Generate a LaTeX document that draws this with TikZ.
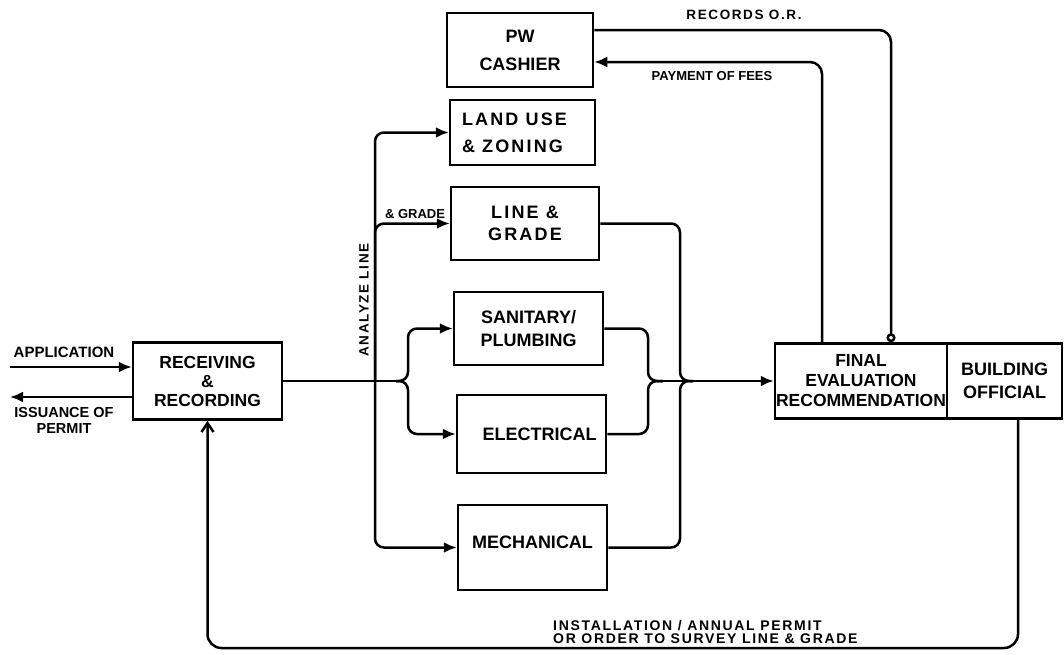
\documentclass[tikz,border=0pt]{standalone}
\usepackage{fontspec}
\setmainfont{Liberation Sans}
\newfontfamily\widefont[LetterSpace=12]{Liberation Sans}
\usetikzlibrary{arrows.meta, positioning}

\begin{document}
\begin{tikzpicture}[x=1pt, y=-1pt,
    box/.style={draw, line width=2.5pt, inner sep=0pt, align=center,
        font=\fontsize{18}{21}\selectfont\bfseries},
    flow/.style={line width=2.5pt, rounded corners=9pt},
    arr/.style={flow, -{Latex[length=13pt,width=11pt]}},
    lbl/.style={inner sep=0pt, align=center, font=\fontsize{15}{16}\selectfont\bfseries}]
    \useasboundingbox (0,0) rectangle (1064,654);

    \node[box, minimum width=149pt, minimum height=77pt, font=\fontsize{17.5}{19}\selectfont\bfseries] (rr) at (207.5,381) {RECEIVING\\\&\\RECORDING};
    \node[box, minimum width=146pt, minimum height=74pt, font=\fontsize{18}{28}\selectfont\bfseries] (cash) at (520,50) {PW\\CASHIER};
    \node[box, minimum width=145pt, minimum height=65pt, align=left, font=\fontsize{18}{27}\selectfont\bfseries\widefont] (land) at (522.5,132.5) {\hspace*{-16pt}LAND USE\\\hspace*{-16pt}\& ZONING};
    \node[box, minimum width=148pt, minimum height=73pt, font=\fontsize{18}{22}\selectfont\bfseries\widefont] (line) at (525,223.5) {LINE \&\\GRADE};
    \node[box, minimum width=149pt, minimum height=73pt, font=\fontsize{18}{23}\selectfont\bfseries] (san) at (528.5,328.5) {SANITARY/\\PLUMBING};
    \node[box, minimum width=149pt, minimum height=78pt] (elec) at (531.5,434) {\hspace*{16pt}ELECTRICAL};
    \node[box, minimum width=149pt, minimum height=85pt] (mech) at (532.5,547.5) {MECHANICAL\\[-10pt]\mbox{}};
    \node[box, minimum width=172pt, minimum height=75pt, font=\fontsize{17.5}{20}\selectfont\bfseries] (final) at (861,381) {FINAL\\EVALUATION\\RECOMMENDATION};
    \node[box, minimum width=115pt, minimum height=75pt, font=\fontsize{18}{23}\selectfont\bfseries] (bo) at (1004.5,381) {BUILDING\\OFFICIAL};

    \coordinate (appl) at (10,367);
    \coordinate (iss) at (10,397);
    \coordinate (J) at (375,381);
    \coordinate (split) at (396,381);
    \coordinate (m1) at (663,381);
    \coordinate (payx) at (822,0);
    \coordinate (recx) at (891,0);
    \coordinate (retx) at (1018,0);
    \coordinate (bot) at (0,648);

    \draw[arr] (appl) -- (rr.west |- appl);
    \draw[arr] (rr.west |- iss) -- (iss);
    \node[lbl] (applbl) at (64,352) {APPLICATION};
    \node[lbl, font=\fontsize{14.5}{16}\selectfont\bfseries] (isslbl) at (64,420) {ISSUANCE OF\\PERMIT};

    \draw[flow] (rr.east) -- (split);
    \draw[arr] (J) |- (land.west);
    \draw[arr] (J) |- (line.west);
    \draw[arr] (J) |- (mech.west);
    \draw[arr] (split) -- ++(12,0) |- (san.west);
    \draw[arr] (split) -- ++(12,0) |- (elec.west);
    \node[lbl, rotate=90, font=\fontsize{13.5}{15}\selectfont\bfseries\widefont] (advlbl) at (364,300) {ANALYZE LINE};
    \node[lbl, font=\fontsize{13}{13}\selectfont\bfseries] (gradelbl) at (415,214) {\& GRADE};

    \draw[flow] (san.east) -| (648,381) -- (m1);
    \draw[flow] (elec.east) -| (648,381) -- (m1);
    \draw[flow] (line.east) -| (680,381) -- (693,381);
    \draw[flow] (mech.east) -| (680,381) -- (693,381);
    \draw[arr] (m1) -- (final.west);

    \draw[arr, rounded corners=12pt] (final.north -| payx) |- ([yshift=-12pt]cash.east);
    \draw[flow, rounded corners=12pt, -{Circle[open,length=9pt,width=9pt]}] ([yshift=20pt]cash.east) -| (final.north -| recx);
    \node[lbl, font=\fontsize{13.5}{15}\selectfont\bfseries\widefont] (reclbl) at (744,15) {RECORDS O.R.};
    \node[lbl, font=\fontsize{13}{15}\selectfont\bfseries] (paylbl) at (712,76) {PAYMENT OF FEES};

    \draw[flow, rounded corners=14pt, -{Straight Barb[length=9pt,width=12pt]}] (bo.south -| retx) |- (bot -| rr.south) -- (rr.south);
    \node[lbl, align=left, anchor=north west, font=\fontsize{14}{13}\selectfont\bfseries\widefont] (retlbl) at (553,620) {INSTALLATION / ANNUAL PERMIT\\OR ORDER TO SURVEY LINE \& GRADE};
\end{tikzpicture}
\end{document}
